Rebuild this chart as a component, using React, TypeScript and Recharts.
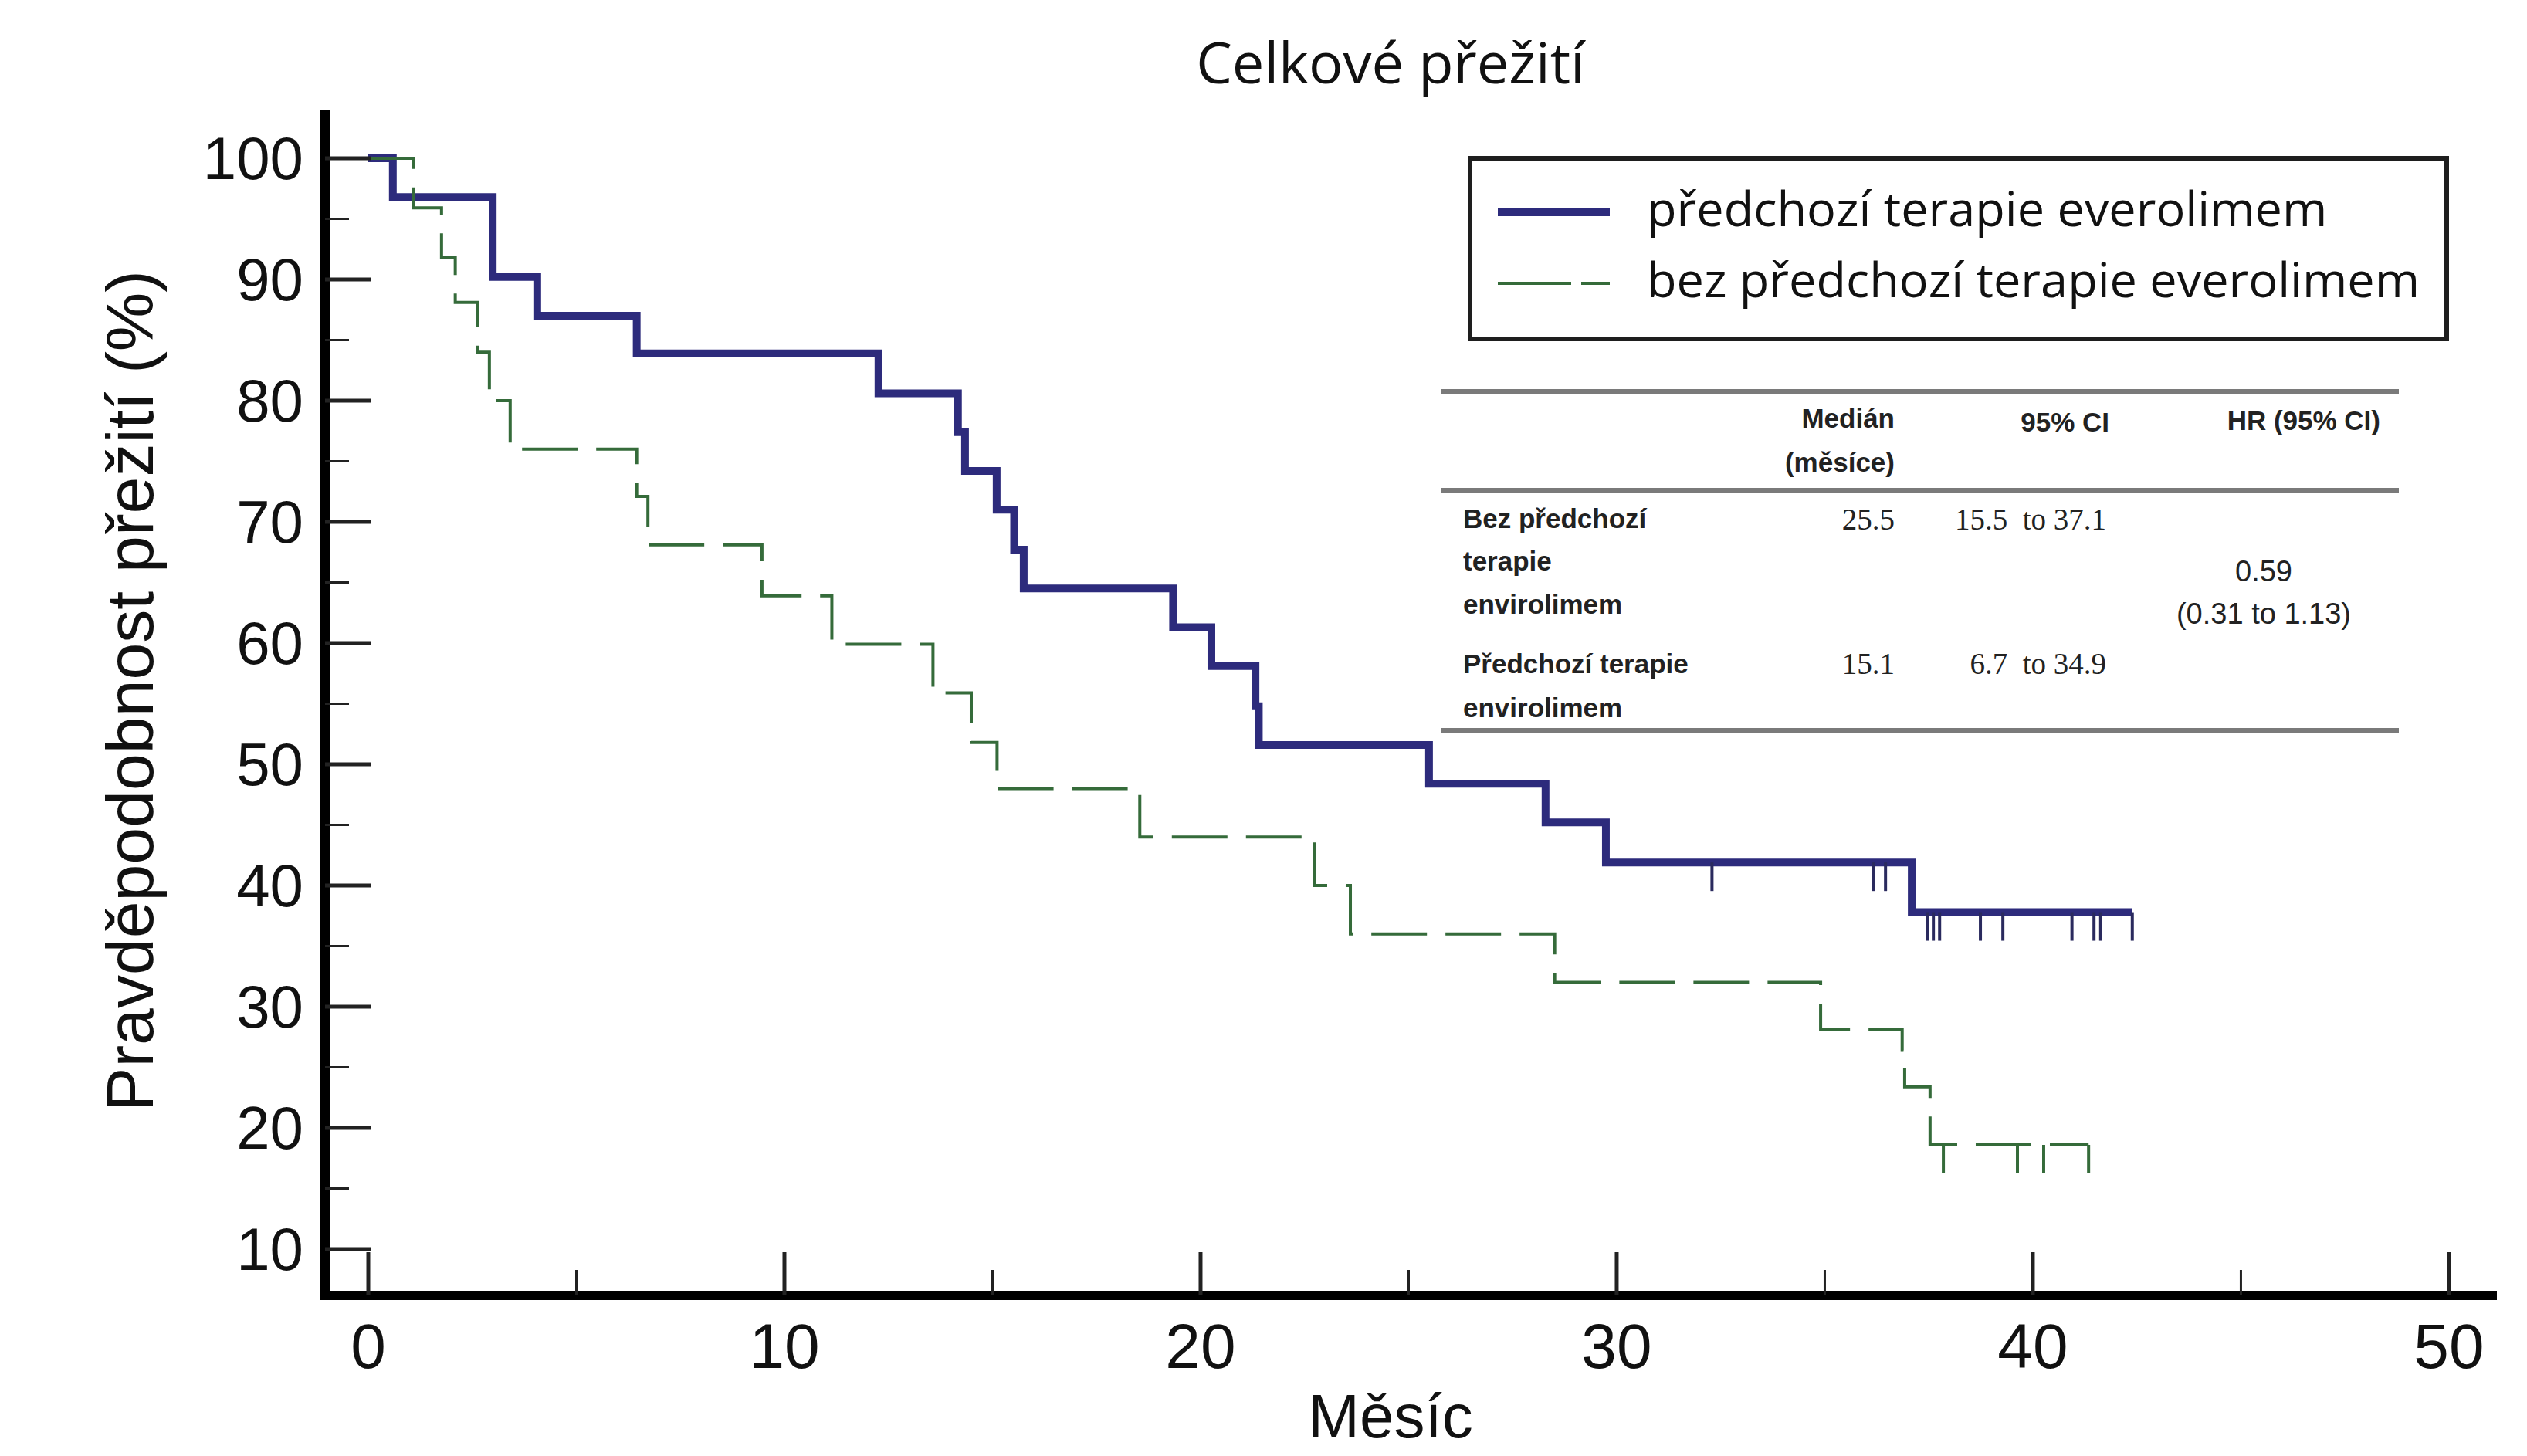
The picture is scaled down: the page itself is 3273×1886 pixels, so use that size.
import React from 'react';
import { ComposedChart, Line, Scatter, XAxis, YAxis, Legend } from 'recharts';

const W = 3273;
const H = 1886;

// Kaplan-Meier: předchozí terapie everolimem (solid navy)
const prevTimes = [0, 0.59, 2.99, 4.06, 6.45, 12.26, 14.17, 14.34, 15.1, 15.52, 15.75, 19.34, 20.26, 21.32, 21.4, 25.49, 28.29, 29.74, 37.09, 42.39];
const prevSurvival = [100, 96.8, 90.2, 87.0, 83.9, 80.6, 77.4, 74.2, 71.0, 67.7, 64.5, 61.3, 58.1, 54.8, 51.6, 48.4, 45.2, 41.9, 37.8, 37.8];
const prevCensorTimes = [32.29, 36.16, 36.46, 37.47, 37.61, 37.76, 38.74, 39.28, 40.94, 41.47, 41.63, 42.39];
const prevCensorLevels = [41.9, 41.9, 41.9, 37.8, 37.8, 37.8, 37.8, 37.8, 37.8, 37.8, 37.8, 37.8];

// Kaplan-Meier: bez předchozí terapie everolimem (dashed green)
const noPrevTimes = [0, 1.08, 1.76, 2.09, 2.62, 2.91, 3.41, 6.45, 6.72, 9.46, 11.14, 13.57, 14.49, 15.11, 18.54, 22.74, 23.6, 28.51, 34.9, 36.86, 36.92, 37.53, 41.34];
const noPrevSurvival = [100, 95.9, 91.8, 88.1, 84.0, 80.0, 76.0, 72.1, 68.1, 63.9, 59.9, 55.9, 51.8, 48.0, 44.0, 40.0, 36.0, 32.0, 28.1, 26.4, 23.4, 18.6, 18.6];
const noPrevCensorTimes = [37.85, 39.63, 40.26, 41.34];
const noPrevCensorLevels = [18.6, 18.6, 18.6, 18.6];

const xTicks = [0, 5, 10, 15, 20, 25, 30, 35, 40, 45, 50];
const yTicks = [10, 15, 20, 25, 30, 35, 40, 45, 50, 55, 60, 65, 70, 75, 80, 85, 90, 95, 100];

const seriesNames = ['předchozí terapie everolimem', 'bez předchozí terapie everolimem'];
const title = 'Celkové přežití';
const xTitle = 'Měsíc';
const yTitle = 'Pravděpodobnost přežití (%)';

const tableHeaders = [['Medián', '(měsíce)'], ['95% CI'], ['HR (95% CI)']];
const tableRowLabels = [['Bez předchozí', 'terapie', 'envirolimem'], ['Předchozí terapie', 'envirolimem']];
const tableMedians = ['25.5', '15.1'];
const tableCIs = ['15.5  to 37.1', '6.7  to 34.9'];
const tableHR = ['0.59', '(0.31 to 1.13)'];

const NAVY = '#2d2b7c';
const GREEN = '#356b3a';

const prevData = prevTimes.map((t, i) => ({ t, s: prevSurvival[i] }));
const noPrevData = noPrevTimes.map((t, i) => ({ t, s: noPrevSurvival[i] }));
const prevCensor = prevCensorTimes.map((t, i) => ({ t, s: prevCensorLevels[i] }));
const noPrevCensor = noPrevCensorTimes.map((t, i) => ({ t, s: noPrevCensorLevels[i] }));

const SANS = '"Liberation Sans", Arial, sans-serif';
const OPEN = '"Open Sans", "Noto Sans", sans-serif';
const SERIF = '"Liberation Serif", "Times New Roman", serif';

const Y_TICK_MARGIN = 28;

const YTick = (props: any) => {
  const { x, y, payload } = props;
  const v = payload.value;
  const major = v % 10 === 0;
  const axisX = x + Y_TICK_MARGIN;
  return (
    <g>
      <line x1={axisX} x2={axisX + (major ? 59 : 31)} y1={y} y2={y} stroke="#222" strokeWidth={major ? 5 : 3} />
      {major && (
        <text x={x} y={y} textAnchor="end" dominantBaseline="central" fontFamily={SANS} fontSize={78} fill="#111">
          {v}
        </text>
      )}
    </g>
  );
};

const XTick = (props: any) => {
  const { x, y, payload } = props;
  const v = payload.value;
  const major = v % 10 === 0;
  return (
    <g>
      <line x1={x} x2={x} y1={y} y2={y - (major ? 56 : 33)} stroke="#222" strokeWidth={major ? 5 : 3} />
      {major && (
        <text x={x} y={y + 94} textAnchor="middle" fontFamily={SANS} fontSize={82} fill="#111">
          {v}
        </text>
      )}
    </g>
  );
};

const CensorMark = (color: string) => (props: any) => {
  const { cx, cy } = props;
  if (cx == null || cy == null) return <g />;
  return <line x1={cx} x2={cx} y1={cy} y2={cy + 37} stroke={color} strokeWidth={4} />;
};

const legendStyles = [
  { color: NAVY, width: 10, dash: undefined as string | undefined },
  { color: GREEN, width: 4, dash: '95 13' },
];

const LegendBox = () => {
  return (
    <svg width={1271} height={240} style={{ display: 'block' }}>
      <rect x={3} y={3} width={1265} height={234} fill="#fff" stroke="#1e1e1e" strokeWidth={6} />
      {seriesNames.map((name, i) => {
        const yLine = i === 0 ? 73 : 165;
        const yText = i === 0 ? 91 : 183;
        const st = legendStyles[i];
        return (
          <g key={i}>
            <line
              x1={39}
              x2={184}
              y1={yLine}
              y2={yLine}
              stroke={st.color}
              strokeWidth={st.width}
              strokeDasharray={st.dash}
            />
            <text x={232} y={yText} fontFamily={OPEN} fontSize={63} fill="#111">
              {name}
            </text>
          </g>
        );
      })}
    </svg>
  );
};

const Overlay = () => {
  const lineStyle = { stroke: '#7a7a7a', strokeWidth: 6 };
  const bold = { fontFamily: SANS, fontWeight: 700 as const, fontSize: 35, fill: '#222' };
  const serifVal = { fontFamily: SERIF, fontSize: 39, fill: '#222', style: { whiteSpace: 'pre' as const } };
  const sansVal = { fontFamily: SANS, fontSize: 38, fill: '#222' };
  return (
    <svg width={W} height={H} style={{ position: 'absolute', left: 0, top: 0, pointerEvents: 'none' }}>
      <text x={1801} y={108} textAnchor="middle" fontFamily={OPEN} fontSize={74} fill="#111">
        {title}
      </text>
      <text transform="translate(198, 895) rotate(-90)" textAnchor="middle" fontFamily={SANS} fontSize={86} fill="#111">
        {yTitle}
      </text>
      <text x={1801} y={1862} textAnchor="middle" fontFamily={SANS} fontSize={80} fill="#111">
        {xTitle}
      </text>

      <line x1={1866} x2={3107} y1={507} y2={507} {...lineStyle} />
      <line x1={1866} x2={3107} y1={635} y2={635} {...lineStyle} />
      <line x1={1866} x2={3107} y1={946} y2={946} {...lineStyle} />

      <text x={2454} y={554} textAnchor="end" {...bold}>{tableHeaders[0][0]}</text>
      <text x={2454} y={611} textAnchor="end" {...bold}>{tableHeaders[0][1]}</text>
      <text x={2732} y={559} textAnchor="end" {...bold}>{tableHeaders[1][0]}</text>
      <text x={3083} y={557} textAnchor="end" {...bold}>{tableHeaders[2][0]}</text>

      <text x={1895} y={684} {...bold}>{tableRowLabels[0][0]}</text>
      <text x={1895} y={739} {...bold}>{tableRowLabels[0][1]}</text>
      <text x={1895} y={795} {...bold}>{tableRowLabels[0][2]}</text>
      <text x={1895} y={872} {...bold}>{tableRowLabels[1][0]}</text>
      <text x={1895} y={929} {...bold}>{tableRowLabels[1][1]}</text>

      <text x={2454} y={686} textAnchor="end" {...serifVal}>{tableMedians[0]}</text>
      <text x={2728} y={686} textAnchor="end" {...serifVal}>{tableCIs[0]}</text>
      <text x={2454} y={873} textAnchor="end" {...serifVal}>{tableMedians[1]}</text>
      <text x={2728} y={873} textAnchor="end" {...serifVal}>{tableCIs[1]}</text>

      <text x={2932} y={753} textAnchor="middle" {...sansVal}>{tableHR[0]}</text>
      <text x={2932} y={808} textAnchor="middle" {...sansVal}>{tableHR[1]}</text>
    </svg>
  );
};

export default function App() {
  return (
    <div style={{ position: 'absolute', left: 0, top: 0, width: W, height: H, background: '#fff' }}>
      <ComposedChart width={W} height={H} margin={{ top: 148, right: 45, bottom: 108, left: 321 }}>
        <XAxis
          type="number"
          dataKey="t"
          domain={[-1.039, 51.04]}
          allowDataOverflow
          ticks={xTicks}
          interval={0}
          height={100}
          tickSize={0}
          tickMargin={0}
          tickLine={false}
          tick={<XTick />}
          axisLine={{ stroke: '#000', strokeWidth: 12, strokeLinecap: 'square' }}
        />
        <YAxis
          type="number"
          dataKey="s"
          domain={[6.18, 103.63]}
          allowDataOverflow
          ticks={yTicks}
          interval={0}
          width={100}
          tickSize={0}
          tickMargin={Y_TICK_MARGIN}
          tickLine={false}
          tick={<YTick />}
          axisLine={{ stroke: '#000', strokeWidth: 12, strokeLinecap: 'square' }}
        />
        <Line
          data={prevData}
          dataKey="s"
          name={seriesNames[0]}
          type="stepAfter"
          stroke={NAVY}
          strokeWidth={10}
          strokeLinejoin="miter"
          dot={false}
          activeDot={false}
          isAnimationActive={false}
        />
        <Line
          data={noPrevData}
          dataKey="s"
          name={seriesNames[1]}
          type="stepAfter"
          stroke={GREEN}
          strokeWidth={4}
          strokeDasharray="72 24"
          dot={false}
          activeDot={false}
          isAnimationActive={false}
        />
        <Scatter
          data={prevCensor}
          dataKey="s"
          legendType="none"
          shape={CensorMark('#2a2a5e')}
          isAnimationActive={false}
        />
        <Scatter
          data={noPrevCensor}
          dataKey="s"
          legendType="none"
          shape={CensorMark(GREEN)}
          isAnimationActive={false}
        />
        <Legend
          layout="vertical"
          align="center"
          verticalAlign="middle"
          width={1271}
          height={240}
          content={<LegendBox />}
          wrapperStyle={{ left: 1901, top: 202, width: 1271, height: 240 }}
        />
      </ComposedChart>
      <Overlay />
    </div>
  );
}
